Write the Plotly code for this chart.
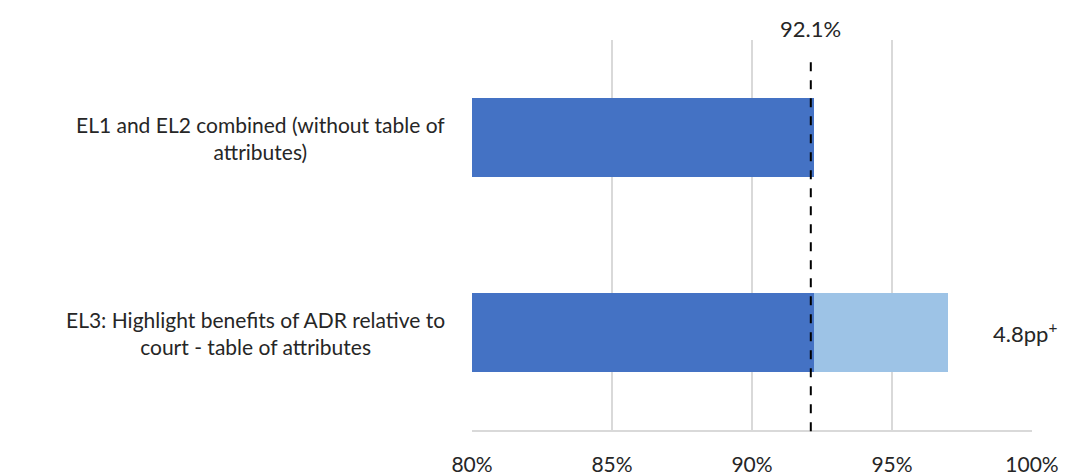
import plotly.graph_objects as go

categories = [
    "EL1 and EL2 combined (without table of<br>attributes)",
    "EL3: Highlight benefits of ADR relative to<br>court - table of attributes",
]
base_values = [92.2, 92.2]
uplift_values = [0.0, 4.8]
reference_value = 92.1
uplift_label = "4.8pp<sup>+</sup>"
tick_values = [80, 85, 90, 95, 100]
tick_labels = ["80%", "85%", "90%", "95%", "100%"]

FONT = "Lato, Calibri, Carlito, sans-serif"
TEXT = "#262626"
ypos = [0, 1]

fig = go.Figure()
fig.add_trace(go.Bar(
    y=ypos, x=base_values, orientation="h",
    marker=dict(color="#4472C4", line=dict(width=0)),
    showlegend=False, hoverinfo="skip",
))
fig.add_trace(go.Bar(
    y=ypos, x=uplift_values, orientation="h",
    marker=dict(color="#9DC3E6", line=dict(width=0)),
    showlegend=False, hoverinfo="skip",
))

# dashed reference line at the combined EL1/EL2 level
fig.add_shape(
    type="line", xref="x", yref="paper",
    x0=reference_value, x1=reference_value, y0=-0.003, y1=0.945,
    line=dict(color="black", width=2, dash="dash"),
)

annotations = []
for yi, cat in zip(ypos, categories):
    annotations.append(dict(
        x=0, xref="paper", y=yi, yref="y", xshift=-25,
        text=cat, showarrow=False, align="center", xanchor="right",
        font=dict(family=FONT, size=21, color=TEXT),
    ))

annotations.append(dict(
    x=reference_value, xref="x", y=1.0, yref="paper", yanchor="bottom",
    text=f"{reference_value}%", showarrow=False, yshift=-4,
    font=dict(family=FONT, size=22, color=TEXT),
))
annotations.append(dict(
    x=base_values[1] + uplift_values[1], xref="x", y=ypos[1], yref="y",
    xanchor="left", xshift=43,
    text=uplift_label, showarrow=False,
    font=dict(family=FONT, size=22, color=TEXT),
))

fig.update_layout(
    width=1072, height=475,
    margin=dict(l=472, r=40, t=40, b=45, autoexpand=False),
    paper_bgcolor="white", plot_bgcolor="white",
    barmode="stack", bargap=0.59,
    annotations=annotations,
    xaxis=dict(
        range=[80, 100], tickvals=tick_values, ticktext=tick_labels,
        showgrid=True, gridcolor="#d9d9d9", gridwidth=1.5,
        zeroline=False, showline=True, linecolor="#d9d9d9", linewidth=1.5,
        ticks="", ticklabelstandoff=15, automargin=False,
        tickfont=dict(family=FONT, size=21, color=TEXT),
        fixedrange=True,
    ),
    yaxis=dict(
        range=[1.5, -0.5], showticklabels=False, showgrid=False,
        zeroline=False, showline=False, ticks="", fixedrange=True,
        automargin=False,
    ),
)

fig.write_html("out.html")
